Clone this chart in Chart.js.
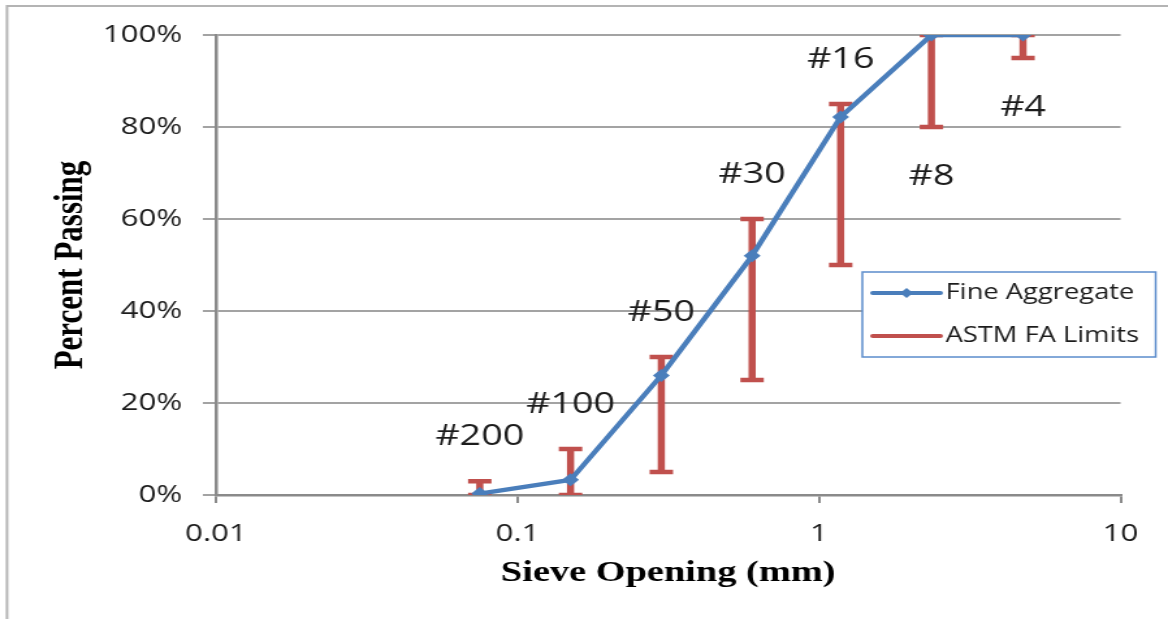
<!DOCTYPE html>
<html>
<head>
<meta charset="utf-8">
<title>Sieve Analysis – Fine Aggregate</title>
<script src="https://cdn.jsdelivr.net/npm/chart.js@4.4.1/dist/chart.umd.min.js"></script>
<style>
  html, body { margin: 0; padding: 0; background: #ffffff; }
</style>
</head>
<body>
<!-- drawing buffer is narrower than the display box, so the whole chart is widened horizontally -->
<canvas id="grading" width="898" height="619" style="display:block;width:1168px;height:619px;"></canvas>
<script>
// Sieve designations and openings (mm)
const sieveNames = ['#200', '#100', '#50', '#30', '#16', '#8', '#4'];
const sieveSizes = [0.075, 0.15, 0.3, 0.6, 1.18, 2.36, 4.75];

// Percent passing for the fine aggregate sample
const percentPassing = [0.3, 3.3, 26, 52, 82.2, 100, 100];

// ASTM C33 fine aggregate grading limits (percent passing)
const astmLow  = [0, 0, 5, 25, 50, 80, 95];
const astmHigh = [3, 10, 30, 60, 85, 100, 100];

// Axis ticks
const xTickValues = [0.01, 0.1, 1, 10];
const xTickLabels = ['0.01', '0.1', '1', '10'];
const yTickLabels = ['0%', '20%', '40%', '60%', '80%', '100%'];

const BLUE = '#4a7ebb';
const RED = '#c0504d';
const GRID = '#a3a3a3';
const AXIS = '#8a8a8a';
const TEXT = '#1c1c1c';

// Fine aggregate curve points
const curveData = sieveSizes.map((s, i) => ({ x: s, y: percentPassing[i] }));

// Limit bars: low -> high per sieve, separated by gaps
const limitData = [];
sieveSizes.forEach((s, i) => {
  limitData.push({ x: s, y: astmLow[i] });
  limitData.push({ x: s, y: astmHigh[i] });
  limitData.push({ x: s, y: null });
});

// White page with the thin gray frame along the top and left edges
const framePlugin = {
  id: 'frame',
  beforeDraw(chart) {
    const ctx = chart.ctx;
    ctx.save();
    ctx.fillStyle = '#ffffff';
    ctx.fillRect(0, 0, chart.width, chart.height);
    ctx.strokeStyle = '#b4b4b4';
    ctx.lineWidth = 2;
    ctx.beginPath();
    ctx.moveTo(chart.width, 6);
    ctx.lineTo(5.4, 6);
    ctx.lineTo(5.4, chart.height);
    ctx.stroke();
    ctx.restore();
  }
};

// Sieve designations: above the upper limit, or below the lower limit when the upper one is 100%
const sieveLabelPlugin = {
  id: 'sieveLabels',
  afterDatasetsDraw(chart) {
    const { ctx, scales } = chart;
    ctx.save();
    ctx.font = '29px "Open Sans"';
    ctx.fillStyle = TEXT;
    ctx.textAlign = 'center';
    ctx.textBaseline = 'middle';
    sieveNames.forEach((name, i) => {
      const x = scales.x.getPixelForValue(sieveSizes[i]);
      const y = astmHigh[i] >= 100
        ? scales.y.getPixelForValue(astmLow[i]) + 50
        : scales.y.getPixelForValue(astmHigh[i]) - 44;
      ctx.fillText(name, x, y);
    });
    ctx.restore();
  }
};

// Boxed legend sitting inside the plot, right side
const boxLegendPlugin = {
  id: 'boxLegend',
  afterDraw(chart) {
    const ctx = chart.ctx;
    const left = 663, top = 272, w = 225.5, h = 85;
    ctx.save();
    ctx.fillStyle = '#ffffff';
    ctx.fillRect(left, top, w, h);
    ctx.strokeStyle = '#5b8ccc';
    ctx.lineWidth = 1.5;
    ctx.strokeRect(left, top, w, h);
    const rows = [top + 21, top + 64];
    chart.data.datasets.forEach((ds, i) => {
      const y = rows[i];
      ctx.strokeStyle = ds.borderColor;
      ctx.lineWidth = 4;
      ctx.lineCap = 'round';
      ctx.beginPath();
      ctx.moveTo(671, y);
      ctx.lineTo(723, y);
      ctx.stroke();
      if (ds.pointStyle === 'rectRot') {
        ctx.fillStyle = ds.borderColor;
        ctx.beginPath();
        ctx.moveTo(697, y - 5);
        ctx.lineTo(702, y);
        ctx.lineTo(697, y + 5);
        ctx.lineTo(692, y);
        ctx.closePath();
        ctx.fill();
      }
      ctx.fillStyle = TEXT;
      ctx.font = '21px "Open Sans"';
      ctx.textAlign = 'left';
      ctx.textBaseline = 'middle';
      ctx.fillText(ds.label, 727, y);
    });
    ctx.restore();
  }
};

function drawChart() {
  const canvas = document.getElementById('grading');
  new Chart(canvas, {
    type: 'scatter',
    data: {
      datasets: [
        {
          label: 'Fine Aggregate',
          data: curveData,
          showLine: true,
          borderColor: BLUE,
          backgroundColor: BLUE,
          borderWidth: 4.3,
          borderJoinStyle: 'round',
          pointStyle: 'rectRot',
          pointRadius: 6.5,
          pointBorderWidth: 0,
          pointBackgroundColor: BLUE,
          tension: 0
        },
        {
          label: 'ASTM FA Limits',
          data: limitData,
          showLine: true,
          spanGaps: false,
          borderColor: RED,
          backgroundColor: RED,
          borderWidth: 5.5,
          borderCapStyle: 'butt',
          pointStyle: 'line',
          pointRadius: 9,
          pointBorderWidth: 4.5,
          pointBorderColor: RED
        }
      ]
    },
    options: {
      responsive: false,
      devicePixelRatio: 1,
      animation: false,
      events: [],
      layout: { padding: { top: 35, right: 36.5, bottom: 0, left: 0 } },
      plugins: {
        legend: { display: false },
        tooltip: { enabled: false }
      },
      scales: {
        x: {
          type: 'logarithmic',
          min: 0.01,
          max: 10,
          afterBuildTicks(scale) {
            scale.ticks = xTickValues.map(v => ({ value: v, major: true }));
          },
          afterFit(scale) { scale.height = 124; },
          ticks: {
            autoSkip: false,
            maxRotation: 0,
            padding: 17,
            color: TEXT,
            font: { family: 'Open Sans', size: 24 },
            callback: (value, index) => xTickLabels[index]
          },
          grid: {
            drawOnChartArea: false,
            drawTicks: true,
            tickLength: 8,
            color: AXIS,
            lineWidth: 2
          },
          border: { display: true, color: AXIS, width: 2.5 },
          title: {
            display: true,
            text: 'Sieve Opening (mm)',
            color: '#000000',
            font: { family: 'Liberation Serif', size: 29.5, weight: 'bold' },
            padding: { top: 0, bottom: 28 }
          }
        },
        y: {
          type: 'linear',
          min: 0,
          max: 100,
          afterFit(scale) { scale.width = 166; },
          ticks: {
            stepSize: 20,
            padding: 16,
            color: TEXT,
            font: { family: 'Open Sans', size: 24 },
            callback: (value) => yTickLabels[Math.round(value / 20)]
          },
          grid: {
            drawTicks: true,
            tickLength: 10,
            color: GRID,
            lineWidth: 2
          },
          border: { display: true, color: AXIS, width: 2.5 },
          title: {
            display: true,
            text: 'Percent Passing',
            color: '#000000',
            font: { family: 'Liberation Serif', size: 31, weight: 'bold' },
            padding: { top: 36, bottom: 0 }
          }
        }
      }
    },
    plugins: [framePlugin, sieveLabelPlugin, boxLegendPlugin]
  });
  // keep the widened display size
  canvas.style.width = '1168px';
  canvas.style.height = '619px';
}

const fontLoads = [
  '24px "Open Sans"',
  'bold 30px "Liberation Serif"'
].map(f => (document.fonts && document.fonts.load) ? document.fonts.load(f).catch(() => null) : null);
Promise.all(fontLoads).then(drawChart, drawChart);
</script>
</body>
</html>
